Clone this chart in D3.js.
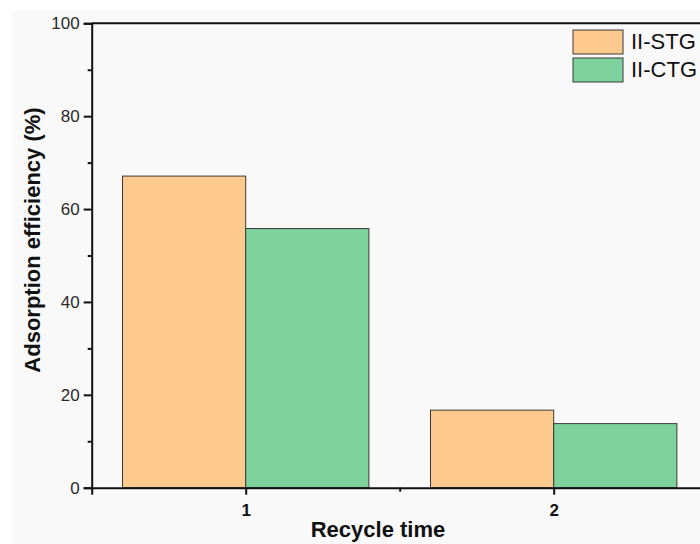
<!DOCTYPE html>
<html><head><meta charset="utf-8">
<script src="https://cdn.jsdelivr.net/npm/d3@7"></script>
<style>body{margin:0;background:#fff}svg{display:block}</style>
</head><body>
<svg id="c" width="700" height="544"></svg>
<script>
const categories = [1, 2];
const seriesNames = ["II-STG", "II-CTG"];
const stgValues = [67.1, 16.7];
const ctgValues = [55.8, 13.8];
const yTicks = [0, 20, 40, 60, 80, 100];
const yMinorTicks = [10, 30, 50, 70, 90];
const xMinorTicks = [1.5, 2.5];
const colors = ["#fec98c", "#7dd39b"];

const svg = d3.select("#c");
const font = "Arial, 'Liberation Sans', sans-serif";
svg.append("rect").attr("x", 12).attr("y", 10).attr("width", 688).attr("height", 534).attr("fill", "#f9f9f9");

const x = d3.scaleLinear().domain([0.5, 2.5]).range([91.7, 707.7]);
const y = d3.scaleLinear().domain([0, 100]).range([487.7, 23.3]);
const bw = 0.4;

const series = [stgValues, ctgValues];
series.forEach((vals, si) => {
  svg.append("g").selectAll("rect").data(categories).join("rect")
    .attr("x", (d) => si === 0 ? x(d - bw) : x(d))
    .attr("width", x(bw) - x(0))
    .attr("y", (d, i) => y(vals[i]))
    .attr("height", (d, i) => y(0) - y(vals[i]))
    .attr("fill", colors[si])
    .attr("stroke", "#3a3a3a").attr("stroke-width", 1);
});

// y axis
const ya = svg.append("g").attr("transform", `translate(${x(0.5)},0)`)
  .call(d3.axisLeft(y).tickValues(yTicks).tickSize(8).tickPadding(4).tickFormat(d3.format("d")));
ya.select(".domain").attr("stroke-width", 2).attr("stroke", "#111");
ya.selectAll(".tick line").attr("stroke-width", 2).attr("stroke", "#111");
ya.selectAll("text").attr("font-family", font).attr("font-size", 17).attr("fill", "#2a2a2a");
svg.append("g").attr("transform", `translate(${x(0.5)},0)`)
  .call(d3.axisLeft(y).tickValues(yMinorTicks).tickSize(4).tickFormat(""))
  .call(g => { g.select(".domain").remove(); g.selectAll("line").attr("stroke-width", 2).attr("stroke", "#111"); });

// x axis
const xa = svg.append("g").attr("transform", `translate(0,${y(0)})`)
  .call(d3.axisBottom(x).tickValues(categories).tickSize(7).tickPadding(9).tickFormat(d3.format("d")));
xa.select(".domain").attr("stroke-width", 2).attr("stroke", "#111");
xa.selectAll(".tick line").attr("stroke-width", 2).attr("stroke", "#111");
xa.selectAll("text").attr("font-family", font).attr("font-size", 17).attr("font-weight", "bold").attr("fill", "#111");
svg.append("g").attr("transform", `translate(0,${y(0)})`)
  .call(d3.axisBottom(x).tickValues(xMinorTicks).tickSize(4).tickFormat(""))
  .call(g => { g.select(".domain").remove(); g.selectAll("line").attr("stroke-width", 2).attr("stroke", "#111"); });

// top frame
svg.append("line").attr("x1", x(0.5)).attr("x2", x(2.5)).attr("y1", y(100)).attr("y2", y(100))
  .attr("stroke", "#111").attr("stroke-width", 2);

// titles
svg.append("text").attr("x", 378).attr("y", 537).attr("text-anchor", "middle")
  .attr("font-family", font).attr("font-size", 22).attr("font-weight", "bold").attr("fill", "#111")
  .text("Recycle time");
svg.append("text").attr("transform", "translate(40,240) rotate(-90)").attr("text-anchor", "middle")
  .attr("font-family", font).attr("font-size", 22).attr("font-weight", "bold").attr("fill", "#111")
  .text("Adsorption efficiency (%)");

// legend
const lg = svg.append("g");
seriesNames.forEach((n, i) => {
  lg.append("rect").attr("x", 573).attr("y", 30 + i * 28).attr("width", 50).attr("height", 24)
    .attr("fill", colors[i]).attr("stroke", "#3a3a3a").attr("stroke-width", 1);
  lg.append("text").attr("x", 631).attr("y", 49 + i * 28)
    .attr("font-family", font).attr("font-size", 22).attr("fill", "#111").text(n);
});
</script>
</body></html>
